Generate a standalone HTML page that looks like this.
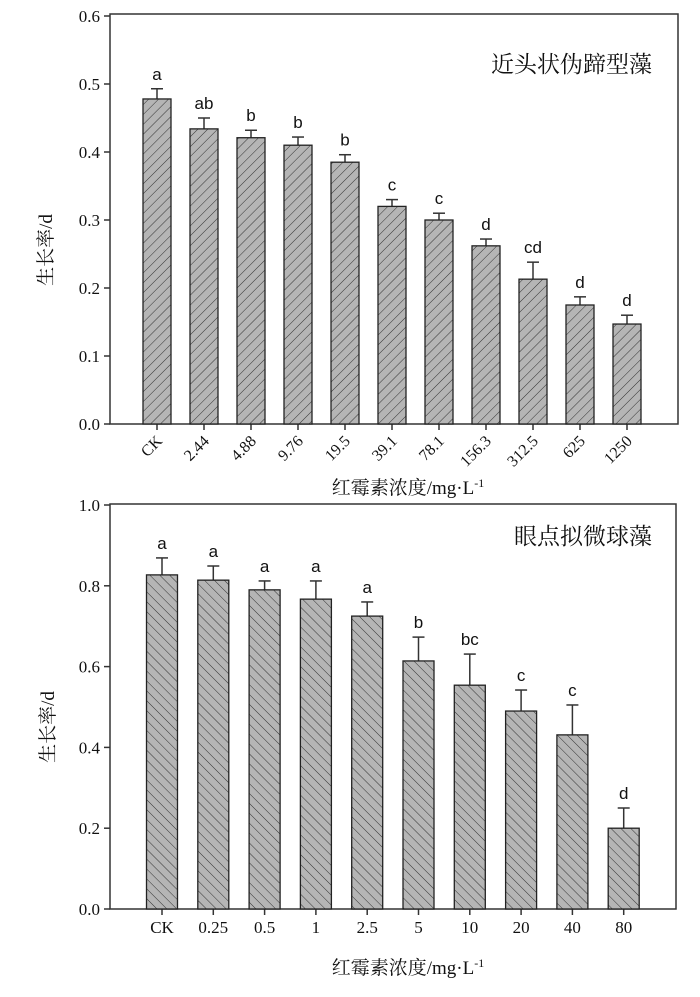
<!DOCTYPE html>
<html><head><meta charset="utf-8">
<style>
body{margin:0;background:#fff;}
svg{display:block;}
text{font-family:"Liberation Serif","Noto Serif CJK SC",serif;fill:#111;}
.lt{font-family:"Liberation Sans",sans-serif;font-size:17px;}
</style></head>
<body>
<svg id="c" width="700" height="997" viewBox="0 0 700 997">
<defs>
<pattern id="hf" patternUnits="userSpaceOnUse" width="7" height="7" patternTransform="rotate(45)">
<rect width="7" height="7" fill="#b5b5b5"/><line x1="0" y1="0" x2="0" y2="7" stroke="#333" stroke-width="1"/></pattern>
<pattern id="hb" patternUnits="userSpaceOnUse" width="7" height="7" patternTransform="rotate(-45)">
<rect width="7" height="7" fill="#b5b5b5"/><line x1="0" y1="0" x2="0" y2="7" stroke="#333" stroke-width="1"/></pattern>
</defs>
</svg>
<script>
const catsA=["CK","2.44","4.88","9.76","19.5","39.1","78.1","156.3","312.5","625","1250"];
const valsA=[0.478,0.434,0.421,0.41,0.385,0.32,0.30,0.262,0.213,0.175,0.147];
const errA=[0.015,0.016,0.011,0.012,0.011,0.01,0.01,0.01,0.025,0.012,0.013];
const sigA=["a","ab","b","b","b","c","c","d","cd","d","d"];
const ticksA=["0.0","0.1","0.2","0.3","0.4","0.5","0.6"];
const catsB=["CK","0.25","0.5","1","2.5","5","10","20","40","80"];
const valsB=[0.827,0.814,0.79,0.767,0.725,0.614,0.554,0.49,0.431,0.2];
const errB=[0.042,0.035,0.022,0.045,0.035,0.059,0.077,0.052,0.074,0.05];
const sigB=["a","a","a","a","a","b","bc","c","c","d"];
const ticksB=["0.0","0.2","0.4","0.6","0.8","1.0"];
const svg=document.getElementById('c');
const NS='http://www.w3.org/2000/svg';
function mk(t,a,p){const e=document.createElementNS(NS,t);for(const k in a)e.setAttribute(k,a[k]);(p||svg).appendChild(e);return e;}
function panel(o){
  const g=mk('g',{});
  
  
  const y=v=>o.y0-(v/o.ymax)*(o.y0-o.ytop);
  const x=i=>o.x0c+i*o.step;
  const fr=mk('rect',{x:o.L,y:o.T,width:o.R-o.L,height:o.y0-o.T,fill:'none',stroke:'#333','stroke-width':1.5},g);
  
  
  o.ticks.forEach(t=>{const v=parseFloat(t);const yy=y(v);
    mk('line',{x1:o.L-6,x2:o.L,y1:yy,y2:yy,stroke:'#333','stroke-width':1.5},g);
    const tx=mk('text',{x:o.L-10,y:yy+6,'text-anchor':'end','font-size':17},g);tx.textContent=t;
    
    });
  o.cats.forEach((c,i)=>{const cx=x(i),v=o.vals[i],top=y(v),et=y(v+o.err[i]);
    mk('line',{x1:cx,x2:cx,y1:o.y0,y2:o.y0+6,stroke:'#333','stroke-width':1.5},g);
    mk('line',{x1:cx,x2:cx,y1:et,y2:top,stroke:'#333','stroke-width':1.5},g);
    mk('line',{x1:cx-6,x2:cx+6,y1:et,y2:et,stroke:'#333','stroke-width':1.5},g);
    const b=mk('rect',{x:cx-o.bw/2,y:top,width:o.bw,height:o.y0-top,fill:o.fill,stroke:'#222','stroke-width':1.3},g);
    
    
    const s=mk('text',{x:cx,y:et-9,'text-anchor':'middle',class:'lt'},g);s.textContent=o.sig[i];
    
    
    let l;
    if(o.rot){l=mk('text',{x:cx+6,y:o.y0+18,'text-anchor':'end','font-size':16,transform:`rotate(-45 ${cx+6} ${o.y0+18})`},g);}
    else{l=mk('text',{x:cx,y:o.y0+24,'text-anchor':'middle','font-size':17},g);}
    l.textContent=c;
    
    
  });
  const tt=mk('text',{x:652,y:o.titleY,'text-anchor':'end','font-size':23},g);tt.textContent=o.title;
  
  
  const yt=mk('text',{x:o.ytx,y:o.yty,'text-anchor':'middle','font-size':19,transform:`rotate(-90 ${o.ytx} ${o.yty})`},g);yt.textContent='生长率/d';
  
  
  const xt=mk('text',{x:408,y:o.xty,'text-anchor':'middle','font-size':19},g);
  xt.innerHTML='红霉素浓度/mg·L<tspan font-size="12" dy="-7">-1</tspan>';
  
  
}
panel({name:'panel-tetradesmus',cats:catsA,vals:valsA,err:errA,sig:sigA,ticks:ticksA,ymax:0.6,y0:424,ytop:16,T:14,L:110,R:678,x0c:157,step:47,bw:28,fill:'url(#hf)',rot:true,title:'近头状伪蹄型藻',titleY:72,ytx:52,yty:250,xty:494});
panel({name:'panel-nannochloropsis',cats:catsB,vals:valsB,err:errB,sig:sigB,ticks:ticksB,ymax:1.0,y0:909,ytop:505,T:504,L:110,R:676,x0c:162,step:51.3,bw:31,fill:'url(#hb)',rot:false,title:'眼点拟微球藻',titleY:544,ytx:54,yty:727,xty:974});
</script>
</body></html>
